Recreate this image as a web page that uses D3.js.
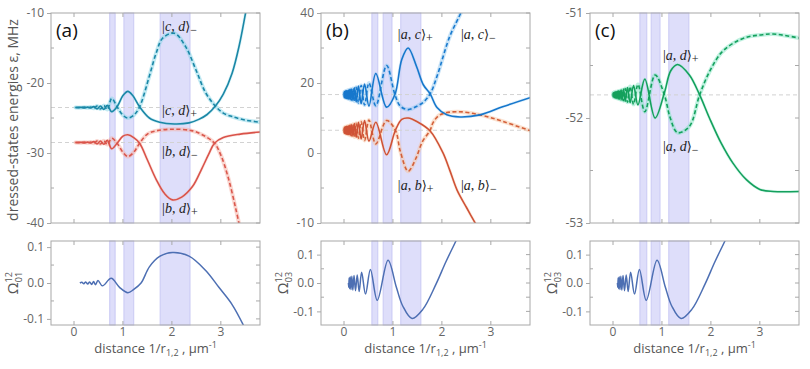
<!DOCTYPE html>
<html>
<head>
<meta charset="utf-8">
<script src="https://cdn.jsdelivr.net/npm/d3@7"></script>
<style>
  body { margin: 0; background: #fff; }
  svg { font-family: "Open Sans", "DejaVu Sans", sans-serif; }
</style>
</head>
<body>
<svg id="fig" width="810" height="369"></svg>
<script>
// ---- data: [distance 1/r, value] ----
const X_DOMAIN = [-0.47, 3.8];
const X_TICKS = [0, 1, 2, 3];

// (a) |c,d> and |b,d> dressed states, MHz
const cdPlusA = [[0.03,-23.5],[0.15,-23.48],[0.22,-23.55],[0.28,-23.45],[0.34,-23.58],[0.40,-23.38],[0.47,-23.7],[0.54,-23.28],[0.61,-23.78],[0.68,-23.2],[0.77,-24.1],[0.88,-23.4],[1.0,-21.8],[1.1,-21.2],[1.2,-21.8],[1.34,-23.4],[1.54,-25.0],[1.75,-25.6],[2.05,-25.85],[2.35,-25.7],[2.55,-25.2],[2.72,-24.5],[2.89,-23.3],[3.05,-21.6],[3.23,-18.6],[3.38,-14.5],[3.5,-10.2],[3.56,-8]];
const cdMinusA = [[0.03,-23.5],[0.15,-23.52],[0.22,-23.45],[0.28,-23.55],[0.34,-23.42],[0.40,-23.62],[0.47,-23.3],[0.54,-23.72],[0.61,-23.22],[0.68,-23.8],[0.77,-22.2],[0.88,-23.4],[1.0,-24.6],[1.1,-25.0],[1.22,-24.6],[1.34,-23.4],[1.54,-19.0],[1.68,-15.7],[1.81,-13.6],[2.05,-12.9],[2.28,-14.8],[2.49,-18.1],[2.69,-21.4],[2.89,-23.3],[3.05,-24.3],[3.23,-24.8],[3.5,-25.3],[3.8,-25.6]];
const bdPlusA = [[0.03,-28.5],[0.15,-28.48],[0.22,-28.55],[0.28,-28.45],[0.34,-28.58],[0.40,-28.38],[0.47,-28.7],[0.54,-28.28],[0.61,-28.75],[0.68,-28.2],[0.77,-29.4],[0.88,-28.6],[1.0,-27.6],[1.1,-27.4],[1.22,-27.8],[1.34,-28.6],[1.5,-31.0],[1.68,-33.8],[1.85,-35.8],[2.01,-36.7],[2.2,-36.3],[2.42,-34.8],[2.6,-32.4],[2.75,-30.2],[2.87,-28.6],[3.05,-27.8],[3.4,-27.3],[3.8,-27.0]];
const bdMinusA = [[0.03,-28.5],[0.15,-28.52],[0.22,-28.45],[0.28,-28.55],[0.34,-28.42],[0.40,-28.62],[0.47,-28.3],[0.54,-28.72],[0.61,-28.25],[0.68,-28.8],[0.77,-27.9],[0.88,-28.6],[1.0,-29.9],[1.1,-30.5],[1.22,-29.9],[1.34,-28.6],[1.5,-27.3],[1.7,-26.8],[2.0,-26.6],[2.4,-26.8],[2.65,-27.5],[2.87,-28.6],[3.0,-30.3],[3.15,-33.5],[3.3,-37.8],[3.4,-41]];

// (b) |a,c> and |a,b> dressed states, MHz
const acPlusB = [[0,16.7],[0.005,15.9],[0.012,17.5],[0.02,15.8],[0.028,17.6],[0.036,15.7],[0.045,17.7],[0.055,15.6],[0.066,17.8],[0.078,15.5],[0.09,17.9],[0.105,15.4],[0.12,18.1],[0.14,15.2],[0.16,18.3],[0.185,15.0],[0.215,18.6],[0.25,14.6],[0.295,19.1],[0.35,14.1],[0.42,19.7],[0.51,13.4],[0.65,22.7],[0.87,13.1],[1.04,16.7],[1.18,26.7],[1.31,30],[1.48,24.8],[1.62,19.5],[1.76,16.9],[1.9,13.0],[2.1,10.9],[2.37,10.3],[2.78,10.9],[3.24,13.2],[3.8,15.8]];
const acMinusB = [[0,16.7],[0.005,17.5],[0.012,15.9],[0.02,17.6],[0.028,15.8],[0.036,17.7],[0.045,15.7],[0.055,17.8],[0.066,15.6],[0.078,17.9],[0.09,15.5],[0.105,18.0],[0.12,15.3],[0.14,18.2],[0.16,15.1],[0.185,18.4],[0.215,14.8],[0.25,18.8],[0.295,14.3],[0.35,19.3],[0.42,13.7],[0.51,20.0],[0.65,13.5],[0.87,25.0],[1.04,16.7],[1.15,13.4],[1.31,12.4],[1.48,13.3],[1.62,14.5],[1.76,16.9],[1.9,21.9],[2.16,33.3],[2.4,40.5],[2.45,43]];
const abPlusB = [[0,6.5],[0.005,5.7],[0.012,7.3],[0.02,5.6],[0.028,7.4],[0.036,5.5],[0.045,7.5],[0.055,5.4],[0.066,7.6],[0.078,5.3],[0.09,7.7],[0.105,5.2],[0.12,7.9],[0.14,5.0],[0.16,8.1],[0.185,4.8],[0.215,8.4],[0.25,4.5],[0.295,8.8],[0.35,4.0],[0.42,9.3],[0.51,3.4],[0.65,8.8],[0.87,-0.5],[1.05,6.5],[1.18,9.6],[1.31,10.0],[1.5,8.9],[1.76,6.3],[2.02,0.1],[2.16,-4.9],[2.31,-10.6],[2.5,-15.5],[2.72,-21]];
const abMinusB = [[0,6.5],[0.005,7.3],[0.012,5.7],[0.02,7.4],[0.028,5.6],[0.036,7.5],[0.045,5.5],[0.055,7.6],[0.066,5.4],[0.078,7.7],[0.09,5.3],[0.105,7.8],[0.12,5.1],[0.14,8.0],[0.16,4.9],[0.185,8.2],[0.215,4.6],[0.25,8.5],[0.295,4.2],[0.35,9.0],[0.42,3.6],[0.51,9.4],[0.65,2.6],[0.87,9.3],[1.05,6.5],[1.15,0.5],[1.31,-5.2],[1.47,-1.5],[1.6,3.2],[1.76,6.5],[1.82,8.7],[1.96,10.9],[2.31,11.8],[2.78,10.9],[3.25,9.0],[3.8,6.4]];

// (c) |a,d> dressed states, MHz
const adPlusC = [[0,-51.78],[0.005,-51.80],[0.012,-51.76],[0.02,-51.80],[0.028,-51.755],[0.036,-51.805],[0.045,-51.755],[0.055,-51.81],[0.066,-51.75],[0.078,-51.81],[0.09,-51.745],[0.105,-51.815],[0.12,-51.74],[0.14,-51.82],[0.16,-51.735],[0.185,-51.83],[0.215,-51.725],[0.25,-51.84],[0.295,-51.71],[0.35,-51.855],[0.42,-51.69],[0.51,-51.875],[0.65,-51.63],[0.86,-52.0],[1.05,-51.76],[1.18,-51.55],[1.32,-51.49],[1.56,-51.59],[1.77,-51.78],[1.97,-52.0],[2.21,-52.24],[2.45,-52.43],[2.73,-52.59],[3.0,-52.68],[3.27,-52.70],[3.82,-52.70]];
const adMinusC = [[0,-51.78],[0.005,-51.76],[0.012,-51.80],[0.02,-51.755],[0.028,-51.805],[0.036,-51.755],[0.045,-51.805],[0.055,-51.75],[0.066,-51.81],[0.078,-51.75],[0.09,-51.815],[0.105,-51.745],[0.12,-51.82],[0.14,-51.74],[0.16,-51.825],[0.185,-51.73],[0.215,-51.835],[0.25,-51.72],[0.295,-51.85],[0.35,-51.70],[0.42,-51.87],[0.51,-51.68],[0.65,-51.94],[0.86,-51.59],[1.05,-51.78],[1.17,-52.0],[1.32,-52.14],[1.56,-52.08],[1.77,-51.78],[1.97,-51.56],[2.21,-51.38],[2.45,-51.29],[2.73,-51.23],[3.0,-51.21],[3.27,-51.2],[3.82,-51.24]];

// couplings Omega^12
const omega01 = [[0.12,0],[0.16,0.002],[0.2,-0.002],[0.24,0.003],[0.28,-0.003],[0.32,0.003],[0.36,-0.004],[0.4,0.004],[0.44,-0.005],[0.49,0.007],[0.58,-0.008],[0.76,0.013],[0.93,-0.012],[1.1,-0.027],[1.22,-0.018],[1.37,0.0],[1.54,0.045],[1.75,0.074],[2.01,0.085],[2.35,0.075],[2.69,0.035],[2.96,-0.012],[3.23,-0.06],[3.47,-0.12]];
const omega03 = [[0.09,0],[0.097,-0.015],[0.105,0.018],[0.115,-0.02],[0.127,0.022],[0.142,-0.023],[0.16,0.024],[0.18,-0.025],[0.205,0.026],[0.235,-0.027],[0.27,0.028],[0.31,-0.03],[0.36,0.038],[0.44,-0.039],[0.54,0.048],[0.68,-0.061],[0.9,0.08],[1.07,-0.015],[1.2,-0.081],[1.39,-0.125],[1.61,-0.093],[1.88,-0.004],[2.08,0.074],[2.29,0.149],[2.32,0.16]];

// highlighted resonance windows
const bandsA = [[0.73,0.84],[1.02,1.22],[1.76,2.37]];
const bandsB = [[0.57,0.69],[0.80,0.98],[1.16,1.57]];
const bandsC = [[0.55,0.69],[0.78,0.96],[1.14,1.55]];

// asymptotic levels (gray dashed)
const refA = [-23.5, -28.5];
const refB = [16.7, 6.5];
const refC = [-51.78];

// tick values and labels
const yTicksA = [-10, -20, -30, -40], yLabelsA = ['-10', '-20', '-30', '-40'], yMinorA = [-15, -25, -35];
const yTicksB = [40, 20, 0, -20], yLabelsB = ['40', '20', '0', '-10'], yMinorB = [30, 10, -10];
const yTicksC = [-51, -52, -53], yLabelsC = ['-51', '-52', '-53'], yMinorC = [-51.5, -52.5];
const omTicks = [0.1, 0, -0.1], omLabels = ['0.1', '0.0', '-0.1'], omMinor = [0.05, -0.05];

// ---- layout ----
const PANEL_LEFT = [51, 321, 590];
const PANEL_W = 209;
const TOP = [13, 223];
const BOT = [241, 325];
const BAND_FILL = '#dedefa', BAND_EDGE = '#c9c9f4';
const FRAME = '#a8a8a8';
const OMEGA_COLOR = '#4d6fb3';

const panels = [
  { name: '(a)', yDom: [-40, -10], yTicks: yTicksA, yLabels: yLabelsA, yMinor: yMinorA, bands: bandsA, refs: refA,
    series: [
      { data: cdMinusA, color: '#1b87a6', glow: '#86d6e8', dashed: true },
      { data: bdMinusA, color: '#d9574c', glow: '#f5aea2', dashed: true },
      { data: cdPlusA, color: '#1b87a6', glow: '#86d6e8', dashed: false },
      { data: bdPlusA, color: '#d9534a', glow: '#f5aea2', dashed: false }],
    labels: [
      { x: 1.8, y: -12.6, a: 'c', b: 'd', s: '−' }, { x: 1.8, y: -24.5, a: 'c', b: 'd', s: '+' },
      { x: 1.8, y: -30.4, a: 'b', b: 'd', s: '−' }, { x: 1.8, y: -38.6, a: 'b', b: 'd', s: '+' }],
    omDom: [-0.117, 0.117], omega: omega01, omSub: '01', yTitle: 'dressed-states energies ε,  MHz' },
  { name: '(b)', yDom: [-20, 40], yTicks: yTicksB, yLabels: yLabelsB, yMinor: yMinorB, bands: bandsB, refs: refB,
    series: [
      { data: acMinusB, color: '#1a7bcf', glow: '#92c8f0', dashed: true },
      { data: abMinusB, color: '#d3603a', glow: '#f8c4a0', dashed: true },
      { data: acPlusB, color: '#1677cc', glow: '#92c8f0', dashed: false },
      { data: abPlusB, color: '#cf5236', glow: '#f8c4a0', dashed: false }],
    labels: [
      { x: 1.1, y: 32.7, a: 'a', b: 'c', s: '+' }, { x: 2.39, y: 32.7, a: 'a', b: 'c', s: '−' },
      { x: 1.1, y: -10.5, a: 'a', b: 'b', s: '+' }, { x: 2.39, y: -10.5, a: 'a', b: 'b', s: '−' }],
    omDom: [-0.148, 0.148], omega: omega03, omSub: '03' },
  { name: '(c)', yDom: [-53, -51], yTicks: yTicksC, yLabels: yLabelsC, yMinor: yMinorC, bands: bandsC, refs: refC,
    series: [
      { data: adMinusC, color: '#14a05c', glow: '#80e4c2', dashed: true },
      { data: adPlusC, color: '#14a05c', glow: '#80e4c2', dashed: false }],
    labels: [
      { x: 1.02, y: -51.45, a: 'a', b: 'd', s: '+' }, { x: 1.02, y: -52.31, a: 'a', b: 'd', s: '−' }],
    omDom: [-0.148, 0.148], omega: omega03, omSub: '03' }
];

const svg = d3.select('#fig');
const defs = svg.append('defs');

function mathLabel(g, x, y, d) {
  const t = g.append('text').attr('x', x).attr('y', y)
    .attr('font-family', '"Liberation Serif", "DejaVu Serif", serif')
    .attr('font-size', 14).attr('fill', '#222');
  t.append('tspan').text('|');
  t.append('tspan').attr('font-style', 'italic').text(d.a);
  t.append('tspan').text(', ');
  t.append('tspan').attr('font-style', 'italic').text(d.b);
  t.append('tspan').attr('font-family', '"DejaVu Serif", serif').attr('font-size', 13).text('⟩');
  t.append('tspan').attr('dy', 3).attr('font-size', 12).text(d.s);
}

function frameTicks(g, x, y, yTicks, yLabels, yMinor, xLabels) {
  const [x0, x1] = x.range();
  const [y0, y1] = y.range(); // y0 bottom, y1 top
  // left axis, labelled
  const left = g.append('g').attr('transform', `translate(${x0},0)`)
    .call(d3.axisLeft(y).tickValues(yTicks).tickFormat((d, i) => yLabels[i]).tickSizeInner(4).tickSizeOuter(0).tickPadding(3));
  left.select('.domain').remove();
  left.selectAll('line').attr('stroke', FRAME);
  left.selectAll('text').attr('fill', '#666').attr('font-size', 12).attr('font-family', '"Open Sans", sans-serif');

  // inner ticks on left/right edges
  const allY = yTicks.concat(yMinor);
  g.selectAll(null).data(allY).enter().append('line')
    .attr('x1', x1).attr('x2', x1 - 4).attr('y1', d => y(d)).attr('y2', d => y(d)).attr('stroke', FRAME);
  g.selectAll(null).data(yMinor).enter().append('line')
    .attr('x1', x0).attr('x2', x0 + 3).attr('y1', d => y(d)).attr('y2', d => y(d)).attr('stroke', FRAME);
  // inner ticks on top/bottom edges
  g.selectAll(null).data(X_TICKS).enter().append('line')
    .attr('x1', d => x(d)).attr('x2', d => x(d)).attr('y1', y1).attr('y2', y1 + 4).attr('stroke', FRAME);
  g.selectAll(null).data(X_TICKS).enter().append('line')
    .attr('x1', d => x(d)).attr('x2', d => x(d)).attr('y1', y0).attr('y2', y0 - 4).attr('stroke', FRAME);

  if (xLabels) {
    g.selectAll(null).data(X_TICKS).enter().append('text')
      .attr('x', d => x(d)).attr('y', y0 + 10.5).attr('text-anchor', 'middle')
      .attr('fill', '#666').attr('font-size', 12).text(d => d3.format('d')(d));
  }

  g.append('rect').attr('x', x0).attr('y', y1).attr('width', x1 - x0).attr('height', y0 - y1)
    .attr('fill', 'none').attr('stroke', FRAME).attr('stroke-width', 1);
}

function drawBands(g, x, y, bands) {
  const [y0, y1] = y.range();
  g.selectAll(null).data(bands).enter().append('rect')
    .attr('x', d => x(d[0])).attr('width', d => x(d[1]) - x(d[0]))
    .attr('y', y1).attr('height', y0 - y1)
    .attr('fill', BAND_FILL).attr('stroke', BAND_EDGE).attr('stroke-width', 1);
}

panels.forEach((p, k) => {
  const left = PANEL_LEFT[k];
  const x = d3.scaleLinear().domain(X_DOMAIN).range([left, left + PANEL_W]);
  const y = d3.scaleLinear().domain(p.yDom).range([TOP[1], TOP[0]]);
  const yOm = d3.scaleLinear().domain(p.omDom).range([BOT[1], BOT[0]]);
  const line = (sy) => d3.line().x(d => x(d[0])).y(d => sy(d[1])).curve(d3.curveCatmullRom.alpha(0.5));

  // ---- top panel ----
  const clipTop = 'clipTop' + k;
  defs.append('clipPath').attr('id', clipTop).append('rect')
    .attr('x', left).attr('y', TOP[0]).attr('width', PANEL_W).attr('height', TOP[1] - TOP[0]);
  const gt = svg.append('g');
  drawBands(gt, x, y, p.bands);
  const plot = gt.append('g').attr('clip-path', `url(#${clipTop})`);
  plot.selectAll(null).data(p.refs).enter().append('line')
    .attr('x1', left).attr('x2', left + PANEL_W).attr('y1', d => y(d)).attr('y2', d => y(d))
    .attr('stroke', '#d2d2d2').attr('stroke-dasharray', '4,3').attr('stroke-width', 1);
  p.series.forEach(s => {
    plot.append('path').datum(s.data).attr('d', line(y)).attr('fill', 'none')
      .attr('stroke', s.glow).attr('stroke-width', s.dashed ? 4 : 3)
      .attr('stroke-opacity', s.dashed ? 0.5 : 0.3).attr('stroke-linecap', 'round');
  });
  p.series.forEach(s => {
    plot.append('path').datum(s.data).attr('d', line(y)).attr('fill', 'none')
      .attr('stroke', s.color).attr('stroke-width', 1.6)
      .attr('stroke-dasharray', s.dashed ? '4,2.5' : null);
  });
  frameTicks(gt, x, y, p.yTicks, p.yLabels, p.yMinor, false);
  p.labels.forEach(d => mathLabel(gt, x(d.x), y(d.y), d));
  gt.append('text').attr('x', left + 5).attr('y', TOP[0] + 24)
    .attr('font-size', 19).attr('fill', '#111').text(p.name);

  // ---- bottom panel: coupling ----
  const clipBot = 'clipBot' + k;
  defs.append('clipPath').attr('id', clipBot).append('rect')
    .attr('x', left).attr('y', BOT[0]).attr('width', PANEL_W).attr('height', BOT[1] - BOT[0]);
  const gb = svg.append('g');
  drawBands(gb, x, yOm, p.bands);
  gb.append('g').attr('clip-path', `url(#${clipBot})`)
    .append('path').datum(p.omega).attr('d', line(yOm)).attr('fill', 'none')
    .attr('stroke', OMEGA_COLOR).attr('stroke-width', 1.5);
  frameTicks(gb, x, yOm, omTicks, omLabels, omMinor, true);

  // Omega axis title
  const om = gb.append('text').attr('transform', `translate(${left - 33},${(BOT[0] + BOT[1]) / 2}) rotate(-90)`)
    .attr('text-anchor', 'middle').attr('fill', '#555').attr('font-size', 15);
  om.append('tspan').text('Ω');
  om.append('tspan').attr('font-size', 9).attr('dy', -6).text('12');
  om.append('tspan').attr('font-size', 9).attr('dx', -10).attr('dy', 10).text(p.omSub);

  // distance axis title
  const xt = gb.append('text').attr('x', left + PANEL_W / 2).attr('y', 352.5)
    .attr('text-anchor', 'middle').attr('fill', '#555').attr('font-size', 13);
  xt.append('tspan').text('distance 1/r');
  xt.append('tspan').attr('font-size', 9).attr('dy', 3).text('1,2');
  xt.append('tspan').attr('dy', -3).text(' , μm');
  xt.append('tspan').attr('font-size', 9).attr('dy', -5).text('-1');

  if (p.yTitle) {
    svg.append('text').attr('transform', `translate(${left - 33},${(TOP[0] + TOP[1]) / 2 + 2}) rotate(-90)`)
      .attr('text-anchor', 'middle').attr('fill', '#555').attr('font-size', 14).text(p.yTitle);
  }
});
</script>
</body>
</html>
